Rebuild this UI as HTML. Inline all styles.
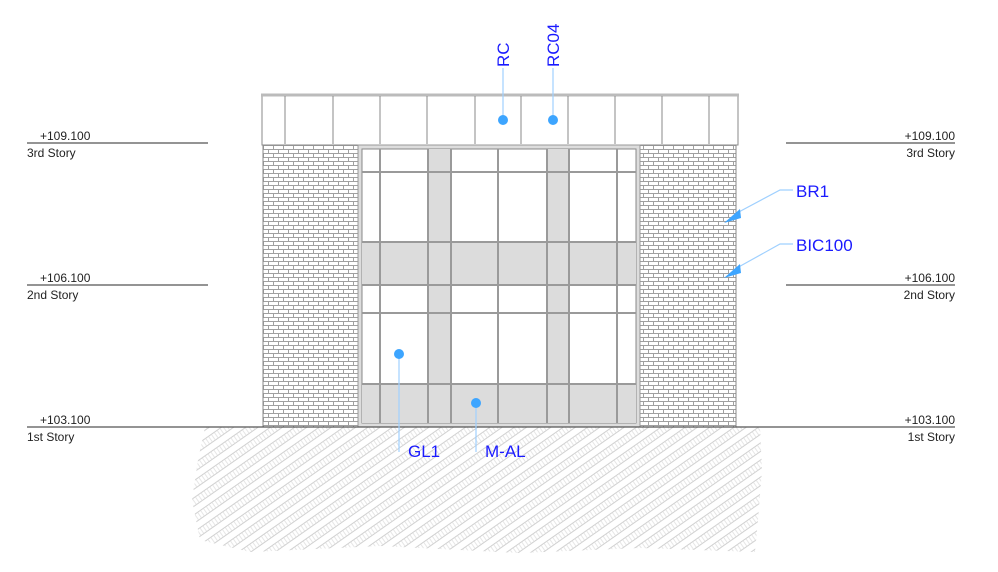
<!DOCTYPE html>
<html><head><meta charset="utf-8"><style>
html,body{margin:0;padding:0;background:#fff;}
svg{display:block;}
text{font-family:"Liberation Sans",sans-serif;}
</style></head><body>
<svg width="998" height="572" viewBox="0 0 998 572" xmlns="http://www.w3.org/2000/svg">
<defs>
<pattern id="brick" width="10" height="8" patternUnits="userSpaceOnUse" x="263" y="145">
<rect width="10" height="8" fill="#fff"/>
<path d="M0 0.5H10M0 4.5H10M0.5 0V4M5.5 4V8" stroke="#a0a0a0" stroke-width="1"/>
</pattern>
<pattern id="hatch" width="14" height="14" patternUnits="userSpaceOnUse" patternTransform="rotate(-35)">
<line x1="0" y1="1" x2="14" y2="1" stroke="#d0d0d0" stroke-width="1"/>
<line x1="0" y1="8" x2="14" y2="8" stroke="#d0d0d0" stroke-width="1"/>
<path d="M1 1V8M4.5 1V8M8 1V8M11.5 1V8" stroke="#dcdcdc" stroke-width="0.7"/>
</pattern>
</defs>

<!-- ground -->
<path d="M205 427 L760 427 L762 470 L758 520 L755 552 L640 548 L520 553 L380 546 L250 552 L200 540 L192 500 L198 460 Z" fill="url(#hatch)"/>

<!-- roof -->
<rect x="262" y="95" width="476" height="50" fill="#fff" stroke="#888" stroke-width="1"/>
<line x1="261" y1="95" x2="739" y2="95" stroke="#bbb" stroke-width="3"/>
<g stroke="#888" stroke-width="1">
<line x1="285" y1="96" x2="285" y2="144"/><line x1="333" y1="96" x2="333" y2="144"/>
<line x1="380" y1="96" x2="380" y2="144"/><line x1="427" y1="96" x2="427" y2="144"/>
<line x1="475" y1="96" x2="475" y2="144"/><line x1="521" y1="96" x2="521" y2="144"/>
<line x1="568" y1="96" x2="568" y2="144"/><line x1="615" y1="96" x2="615" y2="144"/>
<line x1="662" y1="96" x2="662" y2="144"/><line x1="709" y1="96" x2="709" y2="144"/>
</g>

<!-- brick -->
<rect x="263" y="145" width="95" height="282" fill="url(#brick)" stroke="#888"/>
<rect x="640" y="145" width="96" height="282" fill="url(#brick)" stroke="#888"/>

<!-- curtain wall -->
<rect x="358" y="145" width="282" height="282" fill="#ddd" stroke="#999"/>
<rect x="362" y="149" width="274" height="274" fill="#fff" stroke="#888"/>
<g fill="#dcdcdc">
<rect x="362" y="242" width="274" height="43"/>
<rect x="362" y="384" width="274" height="39"/>
<rect x="428" y="149" width="23" height="274"/>
<rect x="547" y="149" width="22" height="274"/>
</g>
<g stroke="#9a9a9a" stroke-width="2">
<line x1="362" y1="172" x2="636" y2="172"/>
<line x1="362" y1="242" x2="636" y2="242"/>
<line x1="362" y1="285" x2="636" y2="285"/>
<line x1="362" y1="313" x2="636" y2="313"/>
<line x1="362" y1="384" x2="636" y2="384"/>
<line x1="380" y1="149" x2="380" y2="423"/>
<line x1="428" y1="149" x2="428" y2="423"/>
<line x1="451" y1="149" x2="451" y2="423"/>
<line x1="498" y1="149" x2="498" y2="423"/>
<line x1="547" y1="149" x2="547" y2="423"/>
<line x1="569" y1="149" x2="569" y2="423"/>
<line x1="617" y1="149" x2="617" y2="423"/>
</g>

<!-- levels -->
<g stroke="#555" stroke-width="1.3">
<line x1="27" y1="143" x2="208" y2="143"/><line x1="786" y1="143" x2="955" y2="143"/>
<line x1="27" y1="285" x2="208" y2="285"/><line x1="786" y1="285" x2="955" y2="285"/>
<line x1="27" y1="427" x2="955" y2="427"/>
</g>
<g font-size="12" fill="#222">
<text x="40" y="140">+109.100</text><text x="27" y="157">3rd Story</text>
<text x="40" y="282">+106.100</text><text x="27" y="299">2nd Story</text>
<text x="40" y="424">+103.100</text><text x="27" y="441">1st Story</text>
<g text-anchor="end">
<text x="955" y="140">+109.100</text><text x="955" y="157">3rd Story</text>
<text x="955" y="282">+106.100</text><text x="955" y="299">2nd Story</text>
<text x="955" y="424">+103.100</text><text x="955" y="441">1st Story</text>
</g>
</g>

<!-- annotations -->
<g stroke="#9fd0ff" stroke-width="1.2" fill="none">
<line x1="503" y1="68" x2="503" y2="120"/>
<line x1="553" y1="68" x2="553" y2="120"/>
<line x1="399" y1="354" x2="399" y2="452"/>
<line x1="476" y1="403" x2="476" y2="452"/>
<polyline points="793,190 780,190 735,214"/>
<polyline points="793,244 780,244 735,269"/>
</g>
<g fill="#3da5ff">
<circle cx="503" cy="120" r="5"/><circle cx="553" cy="120" r="5"/>
<circle cx="399" cy="354" r="5"/><circle cx="476" cy="403" r="5"/>
<polygon points="724,223 740,209 741,218"/>
<polygon points="724,278 740,264 741,273"/>
</g>
<g font-size="17" fill="#1a1aff">
<text transform="translate(509,67) rotate(-90)">RC</text>
<text transform="translate(559,67) rotate(-90)">RC04</text>
<text x="408" y="457">GL1</text>
<text x="485" y="457">M-AL</text>
<text x="796" y="197">BR1</text>
<text x="796" y="251">BIC100</text>
</g>
</svg>
</body></html>
